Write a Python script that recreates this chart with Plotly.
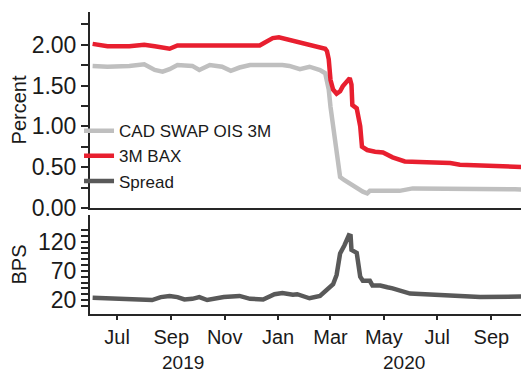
import plotly.graph_objects as go
from plotly.subplots import make_subplots

# ---- data ----
ois_dates = ["2019-06-03", "2019-06-20", "2019-07-15", "2019-08-01", "2019-08-13", "2019-08-22",
             "2019-08-30", "2019-09-08", "2019-09-25", "2019-10-03", "2019-10-15", "2019-10-29",
             "2019-11-08", "2019-11-18", "2019-11-30", "2019-12-11", "2019-12-23", "2020-01-06",
             "2020-01-14", "2020-01-26", "2020-02-06", "2020-02-18", "2020-02-24", "2020-02-26",
             "2020-02-28", "2020-03-01", "2020-03-04", "2020-03-06", "2020-03-08", "2020-03-12",
             "2020-03-17", "2020-03-23", "2020-03-31", "2020-04-07", "2020-04-12", "2020-04-15",
             "2020-04-27", "2020-05-19", "2020-06-03", "2020-07-16", "2020-08-19", "2020-09-28",
             "2020-10-14"]
ois_values = [1.74, 1.73, 1.74, 1.76, 1.69, 1.67,
              1.70, 1.75, 1.74, 1.69, 1.75, 1.73,
              1.68, 1.72, 1.75, 1.75, 1.76, 1.75,
              1.74, 1.70, 1.73, 1.69, 1.65, 1.57,
              1.45, 1.24, 1.00, 0.79, 0.67, 0.38,
              0.34, 0.30, 0.24, 0.20, 0.18, 0.21,
              0.21, 0.21, 0.24, 0.24, 0.24, 0.23,
              0.22]

bax_dates = ["2019-06-03", "2019-06-11", "2019-06-20", "2019-07-15", "2019-08-01", "2019-08-13",
             "2019-08-22", "2019-08-30", "2019-09-08", "2019-10-15", "2019-11-10", "2019-12-11",
             "2019-12-16", "2019-12-26", "2020-01-02", "2020-01-14", "2020-01-26", "2020-02-10",
             "2020-02-18", "2020-02-24", "2020-02-26", "2020-02-28", "2020-03-01", "2020-03-04",
             "2020-03-08", "2020-03-12", "2020-03-15", "2020-03-23", "2020-03-25", "2020-03-26",
             "2020-03-31", "2020-04-04", "2020-04-06", "2020-04-12", "2020-04-21", "2020-04-30",
             "2020-05-11", "2020-05-25", "2020-06-19", "2020-07-16", "2020-07-27", "2020-08-19",
             "2020-09-11", "2020-10-14"]
bax_values = [2.01, 2.00, 1.98, 1.98, 2.00, 1.98,
              1.96, 1.95, 1.99, 1.99, 1.99, 1.99,
              2.02, 2.08, 2.09, 2.06, 2.02, 1.98,
              1.97, 1.95, 1.92, 1.82, 1.57, 1.45,
              1.40, 1.43, 1.49, 1.59, 1.51, 1.26,
              1.22, 1.00, 0.75, 0.71, 0.69, 0.68,
              0.62, 0.57, 0.56, 0.55, 0.53, 0.52,
              0.52, 0.50]

spread_dates = ["2019-06-03", "2019-07-10", "2019-08-10", "2019-08-20", "2019-08-30", "2019-09-08",
                "2019-09-16", "2019-09-25", "2019-10-03", "2019-10-12", "2019-10-31", "2019-11-18",
                "2019-11-30", "2019-12-15", "2019-12-28", "2020-01-06", "2020-01-18", "2020-01-23",
                "2020-01-30", "2020-02-06", "2020-02-18", "2020-02-26", "2020-03-04", "2020-03-08",
                "2020-03-12", "2020-03-17", "2020-03-20", "2020-03-22", "2020-03-24", "2020-03-25",
                "2020-03-31", "2020-04-04", "2020-04-07", "2020-04-15", "2020-04-18", "2020-04-27",
                "2020-05-05", "2020-05-11", "2020-05-31", "2020-07-04", "2020-07-27", "2020-08-19",
                "2020-10-14"]
spread_values = [24, 22, 20, 25, 27, 25,
                 21, 22, 25, 20, 25, 27,
                 22, 21, 30, 32, 29, 30,
                 27, 23, 27, 37, 47, 63,
                 100, 114, 124, 131, 130, 106,
                 101, 60, 53, 53, 45, 45,
                 42, 40, 31, 29, 27, 25,
                 26]

month_ticks = ["2019-07-01", "2019-09-01", "2019-11-01", "2020-01-01",
               "2020-03-01", "2020-05-01", "2020-07-01", "2020-09-01"]
month_labels = ["Jul", "Sep", "Nov", "Jan", "Mar", "May", "Jul", "Sep"]
year_labels = ["2019", "2020"]
year_centers = ["2019-09-14", "2020-05-24"]

pct_ticks = [0, 0.5, 1.0, 1.5, 2.0]
pct_minor = [0.25, 0.75, 1.25, 1.75, 2.25]
bps_ticks = [20, 70, 120]
bps_minor = [10, 30, 40, 50, 60, 80, 90, 100, 110, 130, 140]

# ---- style ----
FONT = "Liberation Sans, Arial, sans-serif"
AX = "#262626"
C_OIS = "#bfbfbf"
C_BAX = "#e81f2f"
C_SPR = "#595959"

fig = make_subplots(rows=2, cols=1, shared_xaxes=True, vertical_spacing=0.0)

fig.add_trace(go.Scatter(x=ois_dates, y=ois_values, mode="lines", name="CAD SWAP OIS 3M",
                         line=dict(color=C_OIS, width=4.5)), row=1, col=1)
fig.add_trace(go.Scatter(x=bax_dates, y=bax_values, mode="lines", name="3M BAX",
                         line=dict(color=C_BAX, width=4.5)), row=1, col=1)
fig.add_trace(go.Scatter(x=spread_dates, y=spread_values, mode="lines", name="Spread",
                         line=dict(color=C_SPR, width=4.5)), row=2, col=1)

# page body has an 8px margin, so the figure is sized to fit the 529x373 window
xrange = ["2019-05-31", "2020-10-14"]
fig.update_layout(
    width=521, height=365,
    margin=dict(l=82, r=0, t=4, b=59, autoexpand=False),
    paper_bgcolor="white", plot_bgcolor="white",
    font=dict(family=FONT, color="#1a1a1a"),
    showlegend=True,
    legend=dict(x=-0.025, y=0.665, xanchor="left", yanchor="top",
                bgcolor="rgba(0,0,0,0)", font=dict(size=17, family=FONT),
                itemwidth=30, tracegroupgap=0),
    xaxis=dict(domain=[0, 1], range=xrange, type="date", showgrid=False, automargin=False,
               showline=True, linecolor=AX, linewidth=2, ticks="", showticklabels=False,
               zeroline=False),
    xaxis2=dict(domain=[0, 1], range=xrange, type="date", showgrid=False, automargin=False,
                showline=True, linecolor=AX, linewidth=2,
                tickmode="array", tickvals=month_ticks, ticktext=month_labels,
                ticks="outside", ticklen=4, tickwidth=1.5, tickcolor=AX,
                tickfont=dict(size=20, family=FONT), zeroline=False),
    yaxis=dict(domain=[0.351, 1.0], range=[0, 2.4], showgrid=False, zeroline=False,
               automargin=False,
               showline=True, linecolor=AX, linewidth=2,
               tickmode="array", tickvals=pct_ticks, tickformat=".2f",
               ticks="outside", ticklen=7, tickwidth=1.5, tickcolor=AX,
               minor=dict(tickmode="array", tickvals=pct_minor, ticks="outside",
                          ticklen=7, tickwidth=1.5, tickcolor=AX, showgrid=False),
               tickfont=dict(size=23, family=FONT),
               title=dict(text="Percent", font=dict(size=20, family=FONT), standoff=6)),
    yaxis2=dict(domain=[0.0, 0.328], range=[-4, 166], showgrid=False, zeroline=False,
                automargin=False,
                showline=True, linecolor=AX, linewidth=2,
                tickmode="array", tickvals=bps_ticks,
                ticks="outside", ticklen=7, tickwidth=1.5, tickcolor=AX,
                minor=dict(tickmode="array", tickvals=bps_minor, ticks="outside",
                           ticklen=7, tickwidth=1.5, tickcolor=AX, showgrid=False),
                tickfont=dict(size=23, family=FONT),
                title=dict(text="BPS", font=dict(size=20, family=FONT), standoff=6)),
)

for lbl, xc in zip(year_labels, year_centers):
    fig.add_annotation(x=xc, y=0, xref="x2", yref="paper", text=lbl, showarrow=False,
                       yanchor="middle", yshift=-48, font=dict(size=19, family=FONT, color="#1a1a1a"))

fig.write_html("out.html")
